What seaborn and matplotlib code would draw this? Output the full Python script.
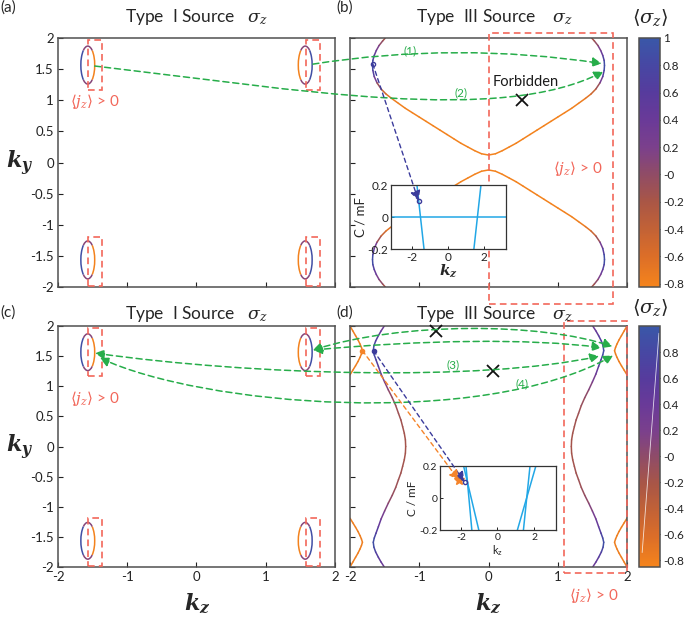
import numpy as np
import pandas as pd
import matplotlib
matplotlib.use("Agg")
import matplotlib.pyplot as plt
import seaborn as sns
from matplotlib.collections import LineCollection
from matplotlib.colors import LinearSegmentedColormap, Normalize
from matplotlib.cm import ScalarMappable
from matplotlib.patches import Arc, Rectangle, FancyArrowPatch, ConnectionPatch
from matplotlib.path import Path
from matplotlib.ticker import FuncFormatter

# ==========================================
# 1. Data
# ==========================================
# (b) type III contour, upper-left quarter: from the gap at kz = 0 up to the top edge
b_kz = [0.00, -0.10, -0.20, -0.30, -0.40, -0.50, -0.60, -0.70, -0.80, -0.90,
        -1.00, -1.10, -1.20, -1.30, -1.40, -1.48, -1.55, -1.61, -1.65, -1.67,
        -1.675, -1.67, -1.65, -1.62, -1.58, -1.53, -1.49]
b_ky = [0.12, 0.14, 0.19, 0.25, 0.31, 0.38, 0.45, 0.52, 0.59, 0.66,
        0.73, 0.80, 0.87, 0.95, 1.03, 1.10, 1.18, 1.28, 1.38, 1.48,
        1.56, 1.64, 1.72, 1.80, 1.88, 1.95, 2.00]
b_sig = [-0.80, -0.80, -0.80, -0.80, -0.80, -0.80, -0.80, -0.80, -0.80, -0.80,
         -0.80, -0.80, -0.79, -0.78, -0.72, -0.60, -0.30, 0.10, 0.50, 0.80,
         0.95, 0.80, 0.55, 0.30, 0.10, -0.10, -0.20]

# (d) inner contour, left branch, upper half (ky = 0 .. 2)
d_in_kz = [-1.196, -1.20, -1.216, -1.24, -1.265, -1.30, -1.34, -1.39, -1.447, -1.50,
           -1.55, -1.59, -1.625, -1.65, -1.664, -1.655, -1.63, -1.59, -1.55, -1.505]
d_in_ky = [0.00, 0.11, 0.22, 0.33, 0.44, 0.55, 0.68, 0.81, 0.94, 1.07,
           1.20, 1.33, 1.44, 1.52, 1.59, 1.67, 1.75, 1.84, 1.92, 2.00]
d_in_sig = [-0.18, -0.18, -0.17, -0.16, -0.15, -0.13, -0.10, -0.05, 0.05, 0.18,
            0.33, 0.52, 0.70, 0.84, 0.92, 0.84, 0.70, 0.55, 0.42, 0.32]

# (d) outer pocket at the left zone edge (upper)
d_out_kz = [-2.00, -1.96, -1.92, -1.885, -1.855, -1.835, -1.82, -1.835, -1.855, -1.885, -1.92, -1.96, -2.00]
d_out_ky = [2.00, 1.92, 1.84, 1.77, 1.70, 1.645, 1.59, 1.535, 1.48, 1.41, 1.34, 1.265, 1.19]
d_out_sig = [-0.78, -0.78, -0.78, -0.78, -0.78, -0.78, -0.78, -0.78, -0.78, -0.78, -0.78, -0.78, -0.78]

# (a)/(c) type I pockets
ell_kz = [-1.57, 1.57]
ell_ky = [1.565, -1.565]
ell_w, ell_h = 0.20, 0.61

# <j_z> > 0 regions (lower-left corner, width, height)
ac_box_kz = [-1.57, 1.575]
ac_box_ky = [1.17, -1.98]
ac_box_w, ac_box_h = 0.21, 0.79
b_box = (0.0, -2.27, 1.80, 4.345)
d_box = (1.09, -2.10, 0.915, 4.18)

# insets: C / mF vs kz branches
insb_kz = [[-1.71, -1.32], [1.43, 1.82], [-3.14, 3.2]]
insb_C = [[0.2, -0.2], [-0.2, 0.2], [0.0, 0.0]]
insd_kz = [[-1.72, -1.40], [-1.85, -1.02], [1.09, 2.10], [1.42, 1.78]]
insd_C = [[0.2, -0.2], [0.2, -0.2], [-0.2, 0.2], [-0.2, 0.2]]

# forbidden transitions
b_forbid = ([0.48], [1.00])
d_forbid = ([-0.76, 0.06], [1.91, 1.25])

# scattering paths: start, two control points, end  (panel, kz, ky)
green_paths = [
    [("a", 1.68, 1.58), ("b", -1.148, 1.823), ("b", 0.238, 1.823), ("b", 1.635, 1.59)],
    [("a", -1.47, 1.55), ("a", 1.495, 1.165), ("b", 0.166, 0.602), ("b", 1.66, 1.46)],
    [("c", 1.68, 1.60), ("d", -1.278, 2.066), ("d", 0.744, 2.066), ("d", 1.79, 1.66)],
    [("c", 1.68, 1.60), ("d", -0.989, 1.768), ("d", 0.599, 1.80), ("d", 1.63, 1.64)],
    [("c", -1.466, 1.55), ("c", 0.773, 1.187), ("d", -0.123, 1.07), ("d", 1.60, 1.50)],
    [("c", -1.394, 1.47), ("c", 0.05, 0.689), ("d", -0.123, 0.274), ("d", 1.80, 1.51)],
]
green_heads = ["-|>", "-|>", "<|-|>", "<|-|>", "<|-|>", "<|-|>"]
green_labels = [("b", -1.13, 1.79, "(1)"), ("b", -0.39, 1.12, "(2)"),
                ("d", -0.51, 1.35, "(3)"), ("d", 0.49, 1.04, "(4)")]

# ==========================================
# 2. Style
# ==========================================
sns.set_theme(style="white")
plt.rcParams["font.family"] = ["Lato", "DejaVu Sans"]
plt.rcParams["axes.unicode_minus"] = False
plt.rcParams["mathtext.fontset"] = "custom"
plt.rcParams["mathtext.rm"] = "DejaVu Serif"
plt.rcParams["mathtext.it"] = "DejaVu Serif:italic"
plt.rcParams["mathtext.bf"] = "DejaVu Serif:italic:bold"

RED = "#f2675a"
GREEN = "#27ad4a"
BLUE = "#3c3c9c"
ORANGE = "#f5842a"
CYAN = "#22a7e6"
SPINE = "#505050"

cb_vals = [-0.825, -0.6, -0.4, -0.2, 0.0, 0.2, 0.4, 0.6, 0.8, 1.0]
cb_cols = ["#f5841c", "#dc6e28", "#c26236", "#a95646", "#904c66",
           "#7b408c", "#6a3a98", "#573b9d", "#4747a3", "#3a57a8"]
pos = [(v - cb_vals[0]) / (cb_vals[-1] - cb_vals[0]) for v in cb_vals]
cmap = LinearSegmentedColormap.from_list("sigz", list(zip(pos, cb_cols)))
norm1 = Normalize(-0.825, 1.0)
norm2 = Normalize(-0.85, 1.0)

fmt = FuncFormatter(lambda v, p: f"{v:g}")

W, H = 685, 617
fig = plt.figure(figsize=(W / 100, H / 100), dpi=100)


def rect(x0, y0, x1, y1):
    return [x0 / W, 1 - y1 / H, (x1 - x0) / W, (y1 - y0) / H]


ax_a = fig.add_axes(rect(58, 38, 335, 287))
ax_b = fig.add_axes(rect(350, 38, 627, 287))
ax_c = fig.add_axes(rect(58, 326, 335, 567))
ax_d = fig.add_axes(rect(350, 326, 627, 567))
cax1 = fig.add_axes(rect(639, 38, 660, 287))
cax2 = fig.add_axes(rect(639, 326, 660, 567))
axes = {"a": ax_a, "b": ax_b, "c": ax_c, "d": ax_d}

for name, ax in axes.items():
    ax.set_xlim(-2, 2)
    ax.set_ylim(-2, 2)
    ax.set_xticks([-2, -1, 0, 1, 2])
    ax.set_yticks(np.arange(-2, 2.01, 0.5))
    ax.xaxis.set_major_formatter(fmt)
    ax.yaxis.set_major_formatter(fmt)
    ax.tick_params(direction="in", length=3.5, width=0.8, colors="#222222",
                   labelsize=9.5, pad=3, bottom=True, left=True)
    for s in ax.spines.values():
        s.set_color(SPINE)
        s.set_linewidth(1.1)
    ax.set_facecolor("white")
ax_a.tick_params(labelbottom=False)
ax_b.tick_params(labelbottom=False, labelleft=False)
ax_d.tick_params(labelleft=False)


def colored_line(ax, kz, ky, sig, norm, lw=1.1):
    pts = np.column_stack([kz, ky])
    segs = np.stack([pts[:-1], pts[1:]], axis=1)
    lc = LineCollection(segs, cmap=cmap, norm=norm, linewidths=lw, capstyle="round", zorder=2)
    s = np.asarray(sig)
    lc.set_array((s[:-1] + s[1:]) / 2)
    ax.add_collection(lc)


# ---- (a), (c): type I pockets ----
for ax in (ax_a, ax_c):
    for cx in ell_kz:
        for cy in ell_ky:
            outer = (105, 255) if cx < 0 else (-75, 75)
            inner = (-75, 75) if cx < 0 else (105, 255)
            ax.add_patch(Arc((cx, cy), ell_w, ell_h, theta1=outer[0], theta2=outer[1],
                             color=cmap(norm1(0.9)), lw=1.1))
            ax.add_patch(Arc((cx, cy), ell_w, ell_h, theta1=inner[0], theta2=inner[1],
                             color=cmap(norm1(-0.8)), lw=1.1))
            for t0, t1 in ((75, 105), (255, 285)):
                ax.add_patch(Arc((cx, cy), ell_w, ell_h, theta1=t0, theta2=t1,
                                 color=cmap(norm1(0.1)), lw=1.1))
    for bx in ac_box_kz:
        for by in ac_box_ky:
            ax.add_patch(Rectangle((bx, by), ac_box_w, ac_box_h, fill=False, ec=RED,
                                   lw=1.2, ls=(0, (4, 2.5)), clip_on=False, zorder=3))

# ---- (b): type III contour ----
kz = np.asarray(b_kz)
ky = np.asarray(b_ky)
sg = np.asarray(b_sig)
full_kz = np.concatenate([kz[::-1], -kz[1:]])
full_ky = np.concatenate([ky[::-1], ky[1:]])
full_sg = np.concatenate([sg[::-1], sg[1:]])
for sgn in (1, -1):
    colored_line(ax_b, full_kz, sgn * full_ky, full_sg, norm1)
ax_b.add_patch(Rectangle(b_box[:2], b_box[2], b_box[3], fill=False, ec=RED,
                         lw=1.2, ls=(0, (4, 2.5)), clip_on=False, zorder=3))

# ---- (d): type III contour, two bands ----
kz = np.asarray(d_in_kz)
ky = np.asarray(d_in_ky)
sg = np.asarray(d_in_sig)
in_kz = np.concatenate([kz[::-1], kz[1:]])
in_ky = np.concatenate([-ky[::-1], ky[1:]])
in_sg = np.concatenate([sg[::-1], sg[1:]])
for sgn in (1, -1):
    colored_line(ax_d, sgn * in_kz, in_ky, in_sg, norm2)
    for sy in (1, -1):
        colored_line(ax_d, sgn * np.asarray(d_out_kz), sy * np.asarray(d_out_ky), d_out_sig, norm2)
ax_d.add_patch(Rectangle(d_box[:2], d_box[2], d_box[3], fill=False, ec=RED,
                         lw=1.2, ls=(0, (4, 2.5)), clip_on=False, zorder=3))

# forbidden marks
ax_b.plot(*b_forbid, ls="none", marker="x", ms=9, mew=1.3, color="#111111", zorder=5)
ax_d.plot(*d_forbid, ls="none", marker="x", ms=9, mew=1.3, color="#111111", zorder=5, clip_on=False)
ax_b.text(0.53, 1.30, "Forbidden", fontsize=10.5, ha="center", va="center", color="#1a1a1a")

# <j_z> > 0 labels
jz = r"$\langle j_z\rangle$ > 0"
ax_a.text(-1.82, 0.98, jz, color=RED, fontsize=11, ha="left", va="center")
ax_c.text(-1.82, 0.79, jz, color=RED, fontsize=11, ha="left", va="center")
ax_b.text(1.29, -0.09, jz, color=RED, fontsize=11, ha="center", va="center")
ax_d.text(1.52, -2.47, jz, color=RED, fontsize=11, ha="center", va="center", clip_on=False)

# titles / panel letters / axis labels
ax_a.text(0.5, 1.085, r"Type  I Source   $\sigma_z$", transform=ax_a.transAxes, ha="center", va="center", fontsize=12.5)
ax_b.text(0.52, 1.085, r"Type  III Source    $\sigma_z$", transform=ax_b.transAxes, ha="center", va="center", fontsize=12.5)
ax_c.text(0.5, 1.05, r"Type  I Source   $\sigma_z$", transform=ax_c.transAxes, ha="center", va="center", fontsize=12.5)
ax_d.text(0.52, 1.05, r"Type  III Source    $\sigma_z$", transform=ax_d.transAxes, ha="center", va="center", fontsize=12.5)
for lab, x, y in (("(a)", 0, 8), ("(b)", 336, 8), ("(c)", 0, 313), ("(d)", 336, 313)):
    fig.text(x / W, 1 - y / H, lab, ha="left", va="center", fontsize=11)
fig.text(20 / W, 1 - 163 / H, r"$\mathbf{k_y}$", ha="center", va="center", fontsize=16)
fig.text(20 / W, 1 - 447 / H, r"$\mathbf{k_y}$", ha="center", va="center", fontsize=16)
fig.text(197 / W, 1 - 603 / H, r"$\mathbf{k_z}$", ha="center", va="center", fontsize=16)
fig.text(488 / W, 1 - 603 / H, r"$\mathbf{k_z}$", ha="center", va="center", fontsize=16)

# ---- colorbars ----
for cax, norm, ticks, ytxt in ((cax1, norm1, np.arange(-0.8, 1.01, 0.2), 17),
                               (cax2, norm2, np.arange(-0.8, 0.81, 0.2), 307)):
    cb = fig.colorbar(ScalarMappable(norm=norm, cmap=cmap), cax=cax)
    cb.set_ticks(np.round(ticks, 2))
    cb.ax.yaxis.set_major_formatter(fmt)
    cb.ax.tick_params(direction="in", length=3, width=0.8, labelsize=8.5, colors="#222222", pad=2)
    cb.outline.set_edgecolor(SPINE)
    cb.outline.set_linewidth(1.1)
    fig.text(650 / W, 1 - ytxt / H, r"$\langle\sigma_z\rangle$", ha="center", va="center", fontsize=14)
cax2.plot([0.15, 0.95], [0.06, 0.97], transform=cax2.transAxes, color="white", lw=0.6, alpha=0.8)

# ---- insets ----
ins_b = fig.add_axes(rect(391, 185, 506, 249))
ins_d = fig.add_axes(rect(440, 466, 556, 530))


def inset_lines(ins, kz_list, c_list, lw):
    rows = []
    for i, (xs, ys) in enumerate(zip(kz_list, c_list)):
        for x, y in zip(xs, ys):
            rows.append({"kz": x, "C": y, "branch": i})
    df = pd.DataFrame(rows)
    sns.lineplot(data=df, x="kz", y="C", units="branch", estimator=None, sort=False,
                 color=CYAN, lw=lw, ax=ins, legend=False)


inset_lines(ins_b, insb_kz, insb_C, 1.1)
inset_lines(ins_d, insd_kz, insd_C, 1.1)
for ins, fs in ((ins_b, 8.5), (ins_d, 7.5)):
    ins.set_xlim(-3.14, 3.2)
    ins.set_ylim(-0.2, 0.2)
    ins.set_xticks([-2, 0, 2])
    ins.set_yticks([-0.2, 0, 0.2])
    ins.xaxis.set_major_formatter(fmt)
    ins.yaxis.set_major_formatter(fmt)
    ins.tick_params(direction="in", length=2.5, width=0.7, labelsize=fs, pad=2, colors="#222222",
                    bottom=True, left=True)
    for s in ins.spines.values():
        s.set_color("#333333")
        s.set_linewidth(0.9)
    ins.set_facecolor("white")
    ins.set_ylabel("C / mF", fontsize=fs + 1, labelpad=1)
ins_b.set_xlabel(r"$\mathbf{k_z}$", fontsize=11, labelpad=0)
ins_d.set_xlabel(r"k$_\mathregular{z}$", fontsize=8, labelpad=1)

# markers on the contours and in the insets
ax_b.plot([-1.67], [1.58], "o", ms=3, mfc="none", mec=BLUE, mew=1.0, zorder=6)
ax_d.plot([-1.66], [1.59], "o", ms=3, color=BLUE, zorder=6)
ax_d.plot([-1.82], [1.59], "o", ms=3, color=ORANGE, zorder=6)
ins_b.plot([-1.62], [0.10], "o", ms=3, mfc="none", mec=BLUE, mew=1.0)
ins_d.plot([-2.10], [0.11], "*", ms=7, color=ORANGE)
ins_d.plot([-1.80], [0.10], "o", ms=3, mfc="none", mec=BLUE, mew=1.0)


# ---- arrows ----
def fig_pt(ax, x, y):
    return fig.transFigure.inverted().transform(ax.transData.transform((x, y)))


for spec, head in zip(green_paths, green_heads):
    verts = [fig_pt(axes[p], x, y) for p, x, y in spec]
    path = Path(verts, [Path.MOVETO, Path.CURVE4, Path.CURVE4, Path.CURVE4])
    fig.add_artist(FancyArrowPatch(path=path, transform=fig.transFigure,
                                   arrowstyle=f"{head},head_length=0.55,head_width=0.28",
                                   mutation_scale=10, color=GREEN, lw=1.1,
                                   ls=(0, (4, 2.5)), zorder=5))
for p, x, y, t in green_labels:
    axes[p].text(x, y, t, color=GREEN, fontsize=8.5, ha="center", va="center", zorder=6)

for ax, ins, a_pt, b_pt, col in ((ax_b, ins_b, (-1.67, 1.58), (-1.62, 0.10), BLUE),
                                 (ax_d, ins_d, (-1.66, 1.59), (-1.80, 0.10), BLUE),
                                 (ax_d, ins_d, (-1.82, 1.59), (-2.10, 0.11), ORANGE)):
    con = ConnectionPatch(xyA=a_pt, coordsA=ax.transData, xyB=b_pt, coordsB=ins.transData,
                          arrowstyle="-|>,head_length=0.6,head_width=0.3", mutation_scale=10,
                          shrinkA=0, shrinkB=0, color=col, lw=1.0, ls=(0, (3, 2.5)), zorder=6)
    fig.add_artist(con)

fig.savefig("out.png", dpi=100)
